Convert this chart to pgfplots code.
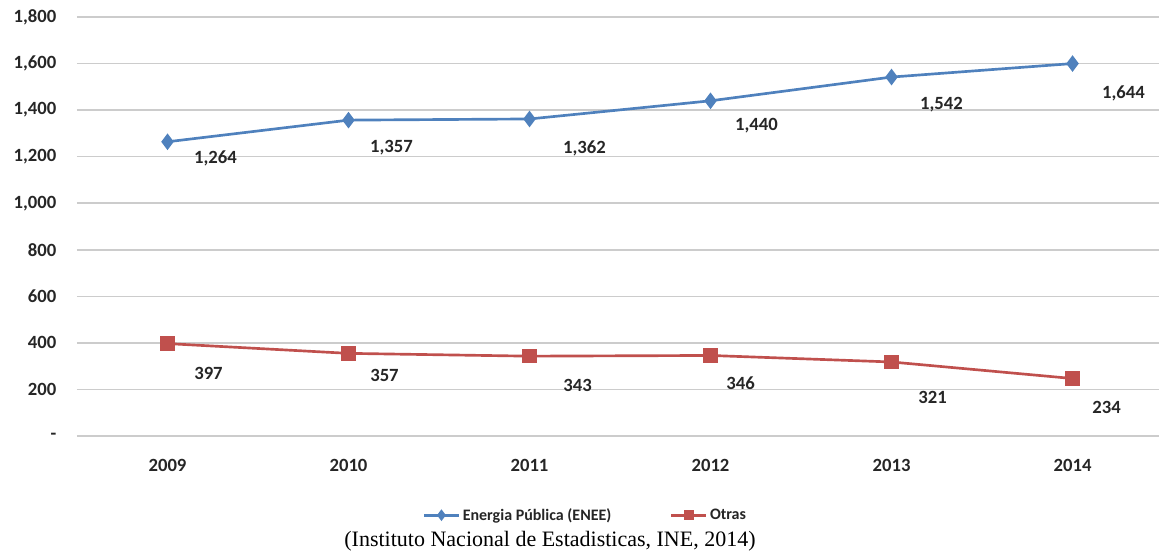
\documentclass[border=0pt]{standalone}
\usepackage{fontspec}
\setmainfont{Carlito}
\newfontfamily\capfont{Liberation Serif}
\usepackage{pgfplots}
\pgfplotsset{compat=1.18}
\usetikzlibrary{calc}

\definecolor{eneeblue}{RGB}{79,129,189}
\definecolor{otrared}{RGB}{192,80,77}

% x y label, label offset (px right, px down)
\pgfplotstableread{
x y lab dx dy
0 1264 1,264 48 17
1 1357 1,357 43 28
2 1362 1,362 55 29
3 1440 1,440 46 25
4 1542 1,542 50 28
5 1600 1,644 51 30
}\enee
\pgfplotstableread{
x y lab dx dy
0 397 397 41 30
1 355 357 36 22
2 343 343 48 29
3 346 346 30 28
4 318 321 41 35
5 247 234 34 29
}\otras

\begin{document}
\begin{tikzpicture}
\begin{axis}[
    name=ax,
    scale only axis,
    width=811.8pt, height=314.25pt,
    xmin=-0.5, xmax=5.48,
    ymin=0, ymax=1800,
    xtick={0,1,2,3,4,5},
    xticklabels={2009,2010,2011,2012,2013,2014},
    ytick={0,200,...,1800},
    yticklabel={\ifdim\tick pt=0pt -\hspace{7.5pt}\else\pgfmathprintnumber{\tick}\fi},
    /pgf/number format/1000 sep={,},
    /pgf/number format/assume math mode=true,
    axis line style={draw=none},
    major tick length=0pt,
    ymajorgrids,
    grid style={black!20, line width=1.1pt},
    tick label style={font=\fontsize{14}{16}\selectfont\bfseries, text=black!85},
    yticklabel style={anchor=east, xshift=-12pt},
    xticklabel style={anchor=north, yshift=-14pt},
    clip=false,
    legend columns=2,
    legend style={at={(0.470,-0.189)}, anchor=center, draw=none,
        font=\fontsize{12}{14}\selectfont\bfseries, text=black!85,
        /tikz/every even column/.append style={column sep=42pt}},
    legend image code/.code={%
        \draw[#1, mark repeat=2, mark phase=2, mark options={scale=0.6}]
            plot coordinates {(0pt,0pt) (13pt,0pt) (26pt,0pt)};},
    nodes near coords,
    point meta=explicit symbolic,
    visualization depends on={\thisrow{dx}\as\dx},
    visualization depends on={\thisrow{dy}\as\dy},
    every node near coord/.style={anchor=center, xshift={\dx*0.75pt}, yshift={-\dy*0.75pt},
        font=\fontsize{14}{16}\selectfont\bfseries, text=black!85},
]
\addplot[eneeblue, line width=2pt, mark=diamond*, mark size=4.6pt,
    mark options={fill=eneeblue}] table[x=x, y=y, meta=lab] {\enee};
\addlegendentry{Energia Pública (ENEE)}
\addplot[otrared, line width=2pt, mark=square*, mark size=4.4pt,
    mark options={fill=otrared}] table[x=x, y=y, meta=lab] {\otras};
\addlegendentry{Otras}
\end{axis}
\node[font=\capfont\fontsize{16.5}{19}\selectfont, text=black]
    at ($(ax.south west)+(354.75pt,-78.75pt)$) {(Instituto Nacional de Estadisticas, INE, 2014)};
\path ($(ax.south west)+(-57.75pt,-88.5pt)$) rectangle ++(871.5pt,415.5pt);
\end{tikzpicture}
\end{document}
